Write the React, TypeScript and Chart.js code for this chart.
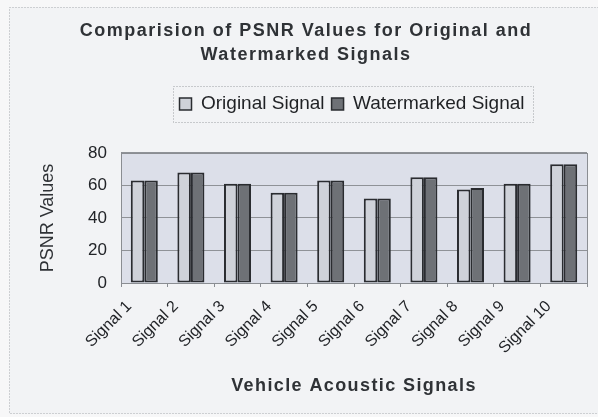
import React, { useEffect, useRef } from "react";
import { Chart, registerables } from "chart.js";

Chart.register(...registerables);

const categories = [
  "Signal 1", "Signal 2", "Signal 3", "Signal 4", "Signal 5",
  "Signal 6", "Signal 7", "Signal 8", "Signal 9", "Signal 10",
];
const originalValues = [63, 68, 61, 55.5, 63, 52, 65, 57.5, 61, 73];
const watermarkedValues = [63, 68, 61, 55.5, 63, 52, 65, 58.5, 61, 73];
const seriesNames = ["Original Signal", "Watermarked Signal"];
const yMin = 0;
const yMax = 80;
const yStep = 20;
const titleLines = ["Comparision of PSNR Values for Original and", "Watermarked Signals"];
const xTitle = "Vehicle Acoustic Signals";
const yTitle = "PSNR Values";

const FONT = '"Liberation Sans", Arial, Helvetica, sans-serif';
const TEXT = "#2f3236";

const decor = {
  id: "decor",
  beforeLayout(chart: any) {
    const lg = chart.legend;
    if (lg && !lg.__patched) {
      lg.__patched = true;
      const origFit = lg.fit.bind(lg);
      lg.fit = function () {
        origFit();
        this.height = 65.5;
      };
    }
    const tb = chart.titleBlock;
    if (tb && !tb.__patched) {
      tb.__patched = true;
      const origDraw = tb.draw.bind(tb);
      tb.draw = function (...args: any[]) {
        const ctx = chart.ctx;
        ctx.save();
        (ctx as any).letterSpacing = "1.5px";
        origDraw(...args);
        ctx.restore();
      };
    }
    const xs = chart.scales && chart.scales.x;
    if (xs && !xs.__patched) {
      xs.__patched = true;
      const origT = xs.drawTitle.bind(xs);
      xs.drawTitle = function (...args: any[]) {
        const ctx = chart.ctx;
        ctx.save();
        (ctx as any).letterSpacing = "1.4px";
        origT(...args);
        ctx.restore();
      };
      const origC = xs._computeLabelItems.bind(xs);
      xs._computeLabelItems = function (ca: any) {
        const items = origC(ca);
        items.forEach((it: any) => {
          const t = it.options.translation;
          it.options.translation = [t[0] - 15, t[1]];
        });
        return items;
      };
    }
  },
  afterLayout(chart: any) {
    const lg = chart.legend;
    if (lg) {
      lg.left += 46;
      lg.right += 46;
    }
  },
  beforeDraw(chart: any) {
    const { ctx, width, height, chartArea } = chart;
    ctx.save();
    ctx.fillStyle = "#f7f7f8";
    ctx.fillRect(0, 0, width, height);
    ctx.fillStyle = "#f2f3f5";
    ctx.fillRect(9, 7, width - 9, height - 10);
    ctx.strokeStyle = "#a9abaf";
    ctx.lineWidth = 1;
    ctx.setLineDash([1, 2]);
    ctx.strokeRect(9.5, 7.5, width - 8, height - 11);
    ctx.setLineDash([]);
    ctx.fillStyle = "#dcdfe9";
    ctx.fillRect(chartArea.left, chartArea.top, chartArea.right - chartArea.left, chartArea.bottom - chartArea.top);
    ctx.restore();
  },
  beforeDatasetsDraw(chart: any) {
    const { ctx, chartArea } = chart;
    ctx.save();
    ctx.strokeStyle = "#8a8d92";
    ctx.lineWidth = 1;
    ctx.strokeRect(Math.round(chartArea.left) + 0.5, Math.round(chartArea.top) + 0.5,
      Math.round(chartArea.right - chartArea.left), Math.round(chartArea.bottom - chartArea.top));
    ctx.restore();
  },
  afterDraw(chart: any) {
    const lg = chart.legend;
    if (!lg || !lg.legendHitBoxes || !lg.legendHitBoxes.length) return;
    const hb = lg.legendHitBoxes;
    const first = hb[0];
    const last = hb[hb.length - 1];
    const left = first.left - 7;
    const right = last.left + last.width + 8;
    const cy = first.top + first.height / 2;
    const ctx = chart.ctx;
    ctx.save();
    ctx.strokeStyle = "#9c9ea3";
    ctx.lineWidth = 1;
    ctx.setLineDash([1, 2]);
    ctx.strokeRect(Math.round(left) + 0.5, Math.round(cy - 18) + 0.5, Math.round(right - left), 36);
    ctx.restore();
  },
};

export default function App() {
  const ref = useRef<HTMLCanvasElement | null>(null);
  useEffect(() => {
    if (!ref.current) return;
    Chart.defaults.font.family = FONT;
    const chart = new Chart(ref.current, {
      type: "bar",
      data: {
        labels: categories,
        datasets: [
          {
            label: seriesNames[0],
            data: originalValues,
            backgroundColor: "#cfd2d9",
            borderColor: "#2a2c30",
            borderWidth: 2,
            borderSkipped: false,
          },
          {
            label: seriesNames[1],
            data: watermarkedValues,
            backgroundColor: "#6e7176",
            borderColor: "#2a2c30",
            borderWidth: 2,
            borderSkipped: false,
          },
        ],
      },
      options: {
        responsive: false,
        animation: false,
        devicePixelRatio: 1,
        layout: { padding: { left: 25, right: 11, top: 8, bottom: 16 } },
        datasets: { bar: { categoryPercentage: 0.58, barPercentage: 1 } },
        plugins: {
          title: {
            display: true,
            text: titleLines,
            color: TEXT,
            font: { family: FONT, size: 18, weight: "bold", lineHeight: 1.333 },
            padding: { top: 11, bottom: 20.5 },
          },
          legend: {
            display: true,
            position: "top",
            labels: {
              color: "#1f2124",
              font: { family: FONT, size: 19 },
              boxWidth: 12,
              boxHeight: 12,
              padding: 7,
              generateLabels: (c: any) =>
                c.data.datasets.map((d: any, i: number) => ({
                  text: d.label,
                  fillStyle: d.backgroundColor,
                  strokeStyle: "#2a2c30",
                  lineWidth: 1.5,
                  datasetIndex: i,
                  hidden: false,
                  fontColor: "#1f2124",
                })),
            },
          },
          tooltip: { enabled: false },
        },
        scales: {
          x: {
            grid: {
              display: true,
              drawOnChartArea: false,
              drawTicks: true,
              tickLength: 4,
              color: "#8a8d92",
              offset: true,
            },
            border: { display: true, color: "#8a8d92" },
            ticks: {
              color: "#222428",
              font: { family: FONT, size: 16 },
              minRotation: 45,
              maxRotation: 45,
              padding: 10,
            },
            title: {
              display: true,
              text: xTitle,
              color: TEXT,
              font: { family: FONT, size: 18, weight: "bold" },
              padding: { top: 4, bottom: 4 },
            },
            afterFit: (s: any) => {
              s.height = 118;
            },
          },
          y: {
            min: yMin,
            max: yMax,
            grid: { color: "#8f9297", drawTicks: false, lineWidth: 1 },
            border: { display: true, color: "#8a8d92" },
            ticks: {
              stepSize: yStep,
              color: "#222428",
              font: { family: FONT, size: 17 },
              padding: 14,
            },
            title: {
              display: true,
              text: yTitle,
              color: TEXT,
              font: { family: FONT, size: 18 },
              padding: { top: 12, bottom: 4 },
            },
            afterFit: (s: any) => {
              s.width = 96;
            },
          },
        },
      } as any,
      plugins: [decor as any],
    });
    return () => chart.destroy();
  }, []);
  return (
    <div style={{ position: "absolute", left: 0, top: 0, width: 598, height: 417 }}>
      <canvas ref={ref} width={598} height={417} style={{ display: "block", width: 598, height: 417 }} />
    </div>
  );
}
